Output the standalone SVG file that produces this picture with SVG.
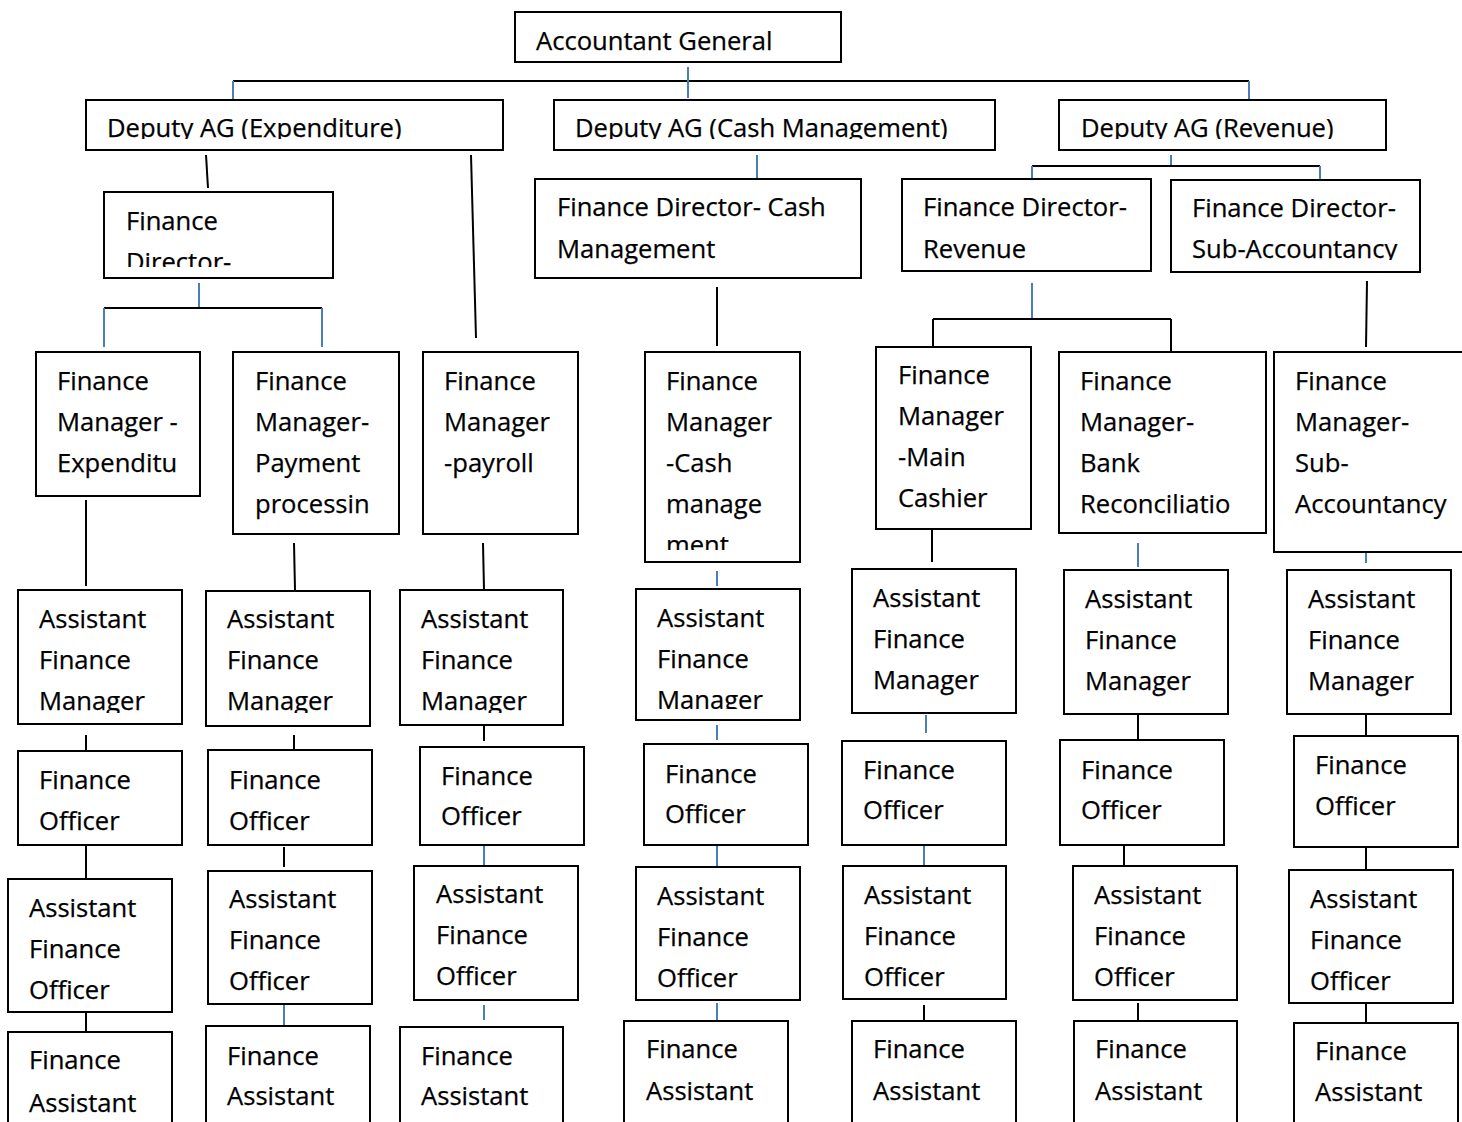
<svg xmlns="http://www.w3.org/2000/svg" width="1462" height="1122" viewBox="0 0 1462 1122">
  <style>
    .box { fill: #fff; stroke: #000; stroke-width: 2; }
    .t { font-family: "Open Sans", "Liberation Sans", sans-serif; font-size: 25.6px; fill: #000; stroke: #000; stroke-width: 0.25; }
    .k { stroke: #000; stroke-width: 2; fill: none; }
    .b { stroke: #4a7ebb; stroke-width: 2; fill: none; }
  </style>
  <defs>
    <!-- bottom cut-offs for text that overflows its box -->
    <clipPath id="cDep" clipPathUnits="userSpaceOnUse"><rect x="0" y="100" width="1462" height="39"/></clipPath>
    <clipPath id="cFdExp" clipPathUnits="userSpaceOnUse"><rect x="104" y="192" width="229" height="75"/></clipPath>
    <clipPath id="cFdSub" clipPathUnits="userSpaceOnUse"><rect x="1171" y="180" width="249" height="80"/></clipPath>
    <clipPath id="cFmCash" clipPathUnits="userSpaceOnUse"><rect x="645" y="352" width="155" height="198"/></clipPath>
    <clipPath id="cAfmA" clipPathUnits="userSpaceOnUse"><rect x="0" y="585" width="600" height="128"/></clipPath>
    <clipPath id="cAfm4" clipPathUnits="userSpaceOnUse"><rect x="636" y="589" width="164" height="120"/></clipPath>
  </defs>

  <!-- connectors -->
  <g id="connectors">
    <line class="k" x1="233" y1="81" x2="1249" y2="81"/>
    <line class="b" x1="688" y1="67" x2="688" y2="98"/>
    <line class="b" x1="233" y1="81" x2="233" y2="99"/>
    <line class="b" x1="1249" y1="81" x2="1249" y2="99"/>

    <line class="k" x1="206" y1="155" x2="208" y2="188"/>
    <line class="k" x1="471" y1="155" x2="476" y2="338"/>
    <line class="b" x1="199" y1="283" x2="199" y2="308"/>
    <line class="k" x1="104" y1="308" x2="322" y2="308"/>
    <line class="b" x1="104" y1="308" x2="104" y2="347"/>
    <line class="b" x1="322" y1="308" x2="322" y2="347"/>

    <line class="b" x1="757" y1="155" x2="757" y2="179"/>
    <line class="k" x1="717" y1="287" x2="717" y2="346"/>

    <line class="b" x1="1171" y1="155" x2="1171" y2="166"/>
    <line class="k" x1="1032" y1="166" x2="1320" y2="166"/>
    <line class="b" x1="1032" y1="166" x2="1032" y2="179"/>
    <line class="b" x1="1320" y1="166" x2="1320" y2="179"/>

    <line class="b" x1="1032" y1="283" x2="1032" y2="319"/>
    <line class="k" x1="933" y1="319" x2="1171" y2="319"/>
    <line class="k" x1="933" y1="319" x2="933" y2="347"/>
    <line class="k" x1="1171" y1="319" x2="1171" y2="352"/>
    <line class="k" x1="1367" y1="281" x2="1366" y2="347"/>

    <!-- column 1 -->
    <line class="k" x1="86" y1="500" x2="86" y2="586"/>
    <line class="k" x1="86" y1="735" x2="86" y2="750"/>
    <line class="k" x1="86" y1="845" x2="86" y2="878"/>
    <line class="k" x1="86" y1="1012" x2="86" y2="1032"/>
    <!-- column 2 -->
    <line class="k" x1="294" y1="543" x2="295" y2="590"/>
    <line class="k" x1="294" y1="735" x2="294" y2="750"/>
    <line class="k" x1="284" y1="847" x2="284" y2="867"/>
    <line class="b" x1="284" y1="1004" x2="284" y2="1027"/>
    <!-- column 3 -->
    <line class="k" x1="483" y1="543" x2="484" y2="590"/>
    <line class="k" x1="484" y1="725" x2="484" y2="741"/>
    <line class="b" x1="484" y1="845" x2="484" y2="866"/>
    <line class="b" x1="484" y1="1005" x2="484" y2="1020"/>
    <!-- column 4 -->
    <line class="b" x1="717" y1="571" x2="717" y2="586"/>
    <line class="b" x1="717" y1="725" x2="717" y2="740"/>
    <line class="b" x1="717" y1="845" x2="717" y2="867"/>
    <line class="b" x1="717" y1="1003" x2="717" y2="1020"/>
    <!-- column 5 -->
    <line class="k" x1="932" y1="529" x2="932" y2="562"/>
    <line class="b" x1="926" y1="715" x2="926" y2="733"/>
    <line class="b" x1="924" y1="845" x2="924" y2="866"/>
    <line class="k" x1="924" y1="1005" x2="924" y2="1020"/>
    <!-- column 6 -->
    <line class="b" x1="1138" y1="543" x2="1138" y2="567"/>
    <line class="k" x1="1138" y1="714" x2="1138" y2="740"/>
    <line class="k" x1="1124" y1="845" x2="1124" y2="866"/>
    <line class="k" x1="1138" y1="1003" x2="1138" y2="1020"/>
    <!-- column 7 -->
    <line class="b" x1="1366" y1="553" x2="1366" y2="563"/>
    <line class="k" x1="1366" y1="714" x2="1366" y2="736"/>
    <line class="k" x1="1366" y1="847" x2="1366" y2="870"/>
    <line class="k" x1="1366" y1="1003" x2="1366" y2="1023"/>
  </g>

  <!-- top levels -->
  <g id="ag"><rect class="box" x="515" y="12" width="326" height="50"/><text class="t" x="536" y="50">Accountant General</text></g>
  <g id="dag-exp"><rect class="box" x="86" y="100" width="417" height="50"/><text class="t" x="107" y="137" clip-path="url(#cDep)">Deputy AG (Expenditure)</text></g>
  <g id="dag-cash"><rect class="box" x="554" y="100" width="441" height="50"/><text class="t" x="575" y="137" clip-path="url(#cDep)">Deputy AG (Cash Management)</text></g>
  <g id="dag-rev"><rect class="box" x="1059" y="100" width="327" height="50"/><text class="t" x="1081" y="137" clip-path="url(#cDep)">Deputy AG (Revenue)</text></g>

  <g id="fd-exp"><rect class="box" x="104" y="192" width="229" height="86"/>
    <text class="t" clip-path="url(#cFdExp)"><tspan x="126" y="230">Finance</tspan><tspan x="126" y="271">Director-</tspan></text></g>
  <g id="fd-cash"><rect class="box" x="535" y="179" width="326" height="99"/>
    <text class="t"><tspan x="557" y="216">Finance Director- Cash</tspan><tspan x="557" y="258">Management</tspan></text></g>
  <g id="fd-rev"><rect class="box" x="902" y="179" width="249" height="92"/>
    <text class="t"><tspan x="923" y="216">Finance Director-</tspan><tspan x="923" y="258">Revenue</tspan></text></g>
  <g id="fd-sub"><rect class="box" x="1171" y="180" width="249" height="92"/>
    <text class="t" clip-path="url(#cFdSub)"><tspan x="1192" y="217">Finance Director-</tspan><tspan x="1192" y="258">Sub-Accountancy</tspan></text></g>

  <!-- finance managers -->
  <g id="fm-exp"><rect class="box" x="36" y="352" width="164" height="144"/>
    <text class="t"><tspan x="57" y="390">Finance</tspan><tspan x="57" y="431">Manager -</tspan><tspan x="57" y="472">Expenditu</tspan></text></g>
  <g id="fm-pay"><rect class="box" x="233" y="352" width="166" height="182"/>
    <text class="t"><tspan x="255" y="390">Finance</tspan><tspan x="255" y="431">Manager-</tspan><tspan x="255" y="472">Payment</tspan><tspan x="255" y="513">processin</tspan></text></g>
  <g id="fm-payroll"><rect class="box" x="423" y="352" width="155" height="182"/>
    <text class="t"><tspan x="444" y="390">Finance</tspan><tspan x="444" y="431">Manager</tspan><tspan x="444" y="472">-payroll</tspan></text></g>
  <g id="fm-cash"><rect class="box" x="645" y="352" width="155" height="210"/>
    <text class="t" clip-path="url(#cFmCash)"><tspan x="666" y="390">Finance</tspan><tspan x="666" y="431">Manager</tspan><tspan x="666" y="472">-Cash</tspan><tspan x="666" y="513">manage</tspan><tspan x="666" y="554">ment</tspan></text></g>
  <g id="fm-main"><rect class="box" x="876" y="347" width="155" height="182"/>
    <text class="t"><tspan x="898" y="384">Finance</tspan><tspan x="898" y="425">Manager</tspan><tspan x="898" y="466">-Main</tspan><tspan x="898" y="507">Cashier</tspan></text></g>
  <g id="fm-bank"><rect class="box" x="1059" y="352" width="207" height="181"/>
    <text class="t"><tspan x="1080" y="390">Finance</tspan><tspan x="1080" y="431">Manager-</tspan><tspan x="1080" y="472">Bank</tspan><tspan x="1080" y="513">Reconciliatio</tspan></text></g>
  <g id="fm-sub"><rect class="box" x="1274" y="352" width="200" height="200"/>
    <text class="t"><tspan x="1295" y="390">Finance</tspan><tspan x="1295" y="431">Manager-</tspan><tspan x="1295" y="472">Sub-</tspan><tspan x="1295" y="513">Accountancy</tspan></text></g>

  <!-- assistant finance managers -->
  <g id="afm-1"><rect class="box" x="18" y="590" width="164" height="134"/>
    <text class="t" clip-path="url(#cAfmA)"><tspan x="39" y="628">Assistant</tspan><tspan x="39" y="669">Finance</tspan><tspan x="39" y="710">Manager</tspan></text></g>
  <g id="afm-2"><rect class="box" x="206" y="591" width="164" height="135"/>
    <text class="t" clip-path="url(#cAfmA)"><tspan x="227" y="628">Assistant</tspan><tspan x="227" y="669">Finance</tspan><tspan x="227" y="710">Manager</tspan></text></g>
  <g id="afm-3"><rect class="box" x="400" y="590" width="163" height="135"/>
    <text class="t" clip-path="url(#cAfmA)"><tspan x="421" y="628">Assistant</tspan><tspan x="421" y="669">Finance</tspan><tspan x="421" y="710">Manager</tspan></text></g>
  <g id="afm-4"><rect class="box" x="636" y="589" width="164" height="131"/>
    <text class="t" clip-path="url(#cAfm4)"><tspan x="657" y="627">Assistant</tspan><tspan x="657" y="668">Finance</tspan><tspan x="657" y="709">Manager</tspan></text></g>
  <g id="afm-5"><rect class="box" x="852" y="569" width="164" height="144"/>
    <text class="t"><tspan x="873" y="607">Assistant</tspan><tspan x="873" y="648">Finance</tspan><tspan x="873" y="689">Manager</tspan></text></g>
  <g id="afm-6"><rect class="box" x="1064" y="570" width="164" height="144"/>
    <text class="t"><tspan x="1085" y="608">Assistant</tspan><tspan x="1085" y="649">Finance</tspan><tspan x="1085" y="690">Manager</tspan></text></g>
  <g id="afm-7"><rect class="box" x="1287" y="570" width="164" height="144"/>
    <text class="t"><tspan x="1308" y="608">Assistant</tspan><tspan x="1308" y="649">Finance</tspan><tspan x="1308" y="690">Manager</tspan></text></g>

  <!-- finance officers -->
  <g id="fo-1"><rect class="box" x="18" y="751" width="164" height="94"/>
    <text class="t"><tspan x="39" y="789">Finance</tspan><tspan x="39" y="830">Officer</tspan></text></g>
  <g id="fo-2"><rect class="box" x="208" y="750" width="164" height="95"/>
    <text class="t"><tspan x="229" y="789">Finance</tspan><tspan x="229" y="830">Officer</tspan></text></g>
  <g id="fo-3"><rect class="box" x="420" y="747" width="164" height="98"/>
    <text class="t"><tspan x="441" y="785">Finance</tspan><tspan x="441" y="825">Officer</tspan></text></g>
  <g id="fo-4"><rect class="box" x="644" y="744" width="164" height="101"/>
    <text class="t"><tspan x="665" y="783">Finance</tspan><tspan x="665" y="823">Officer</tspan></text></g>
  <g id="fo-5"><rect class="box" x="842" y="741" width="164" height="104"/>
    <text class="t"><tspan x="863" y="779">Finance</tspan><tspan x="863" y="819">Officer</tspan></text></g>
  <g id="fo-6"><rect class="box" x="1060" y="740" width="164" height="105"/>
    <text class="t"><tspan x="1081" y="779">Finance</tspan><tspan x="1081" y="819">Officer</tspan></text></g>
  <g id="fo-7"><rect class="box" x="1294" y="736" width="164" height="111"/>
    <text class="t"><tspan x="1315" y="774">Finance</tspan><tspan x="1315" y="815">Officer</tspan></text></g>

  <!-- assistant finance officers -->
  <g id="afo-1"><rect class="box" x="8" y="879" width="164" height="133"/>
    <text class="t"><tspan x="29" y="917">Assistant</tspan><tspan x="29" y="958">Finance</tspan><tspan x="29" y="999">Officer</tspan></text></g>
  <g id="afo-2"><rect class="box" x="208" y="871" width="164" height="133"/>
    <text class="t"><tspan x="229" y="908">Assistant</tspan><tspan x="229" y="949">Finance</tspan><tspan x="229" y="990">Officer</tspan></text></g>
  <g id="afo-3"><rect class="box" x="414" y="866" width="164" height="134"/>
    <text class="t"><tspan x="436" y="903">Assistant</tspan><tspan x="436" y="944">Finance</tspan><tspan x="436" y="985">Officer</tspan></text></g>
  <g id="afo-4"><rect class="box" x="636" y="867" width="164" height="133"/>
    <text class="t"><tspan x="657" y="905">Assistant</tspan><tspan x="657" y="946">Finance</tspan><tspan x="657" y="987">Officer</tspan></text></g>
  <g id="afo-5"><rect class="box" x="843" y="866" width="163" height="133"/>
    <text class="t"><tspan x="864" y="904">Assistant</tspan><tspan x="864" y="945">Finance</tspan><tspan x="864" y="986">Officer</tspan></text></g>
  <g id="afo-6"><rect class="box" x="1073" y="866" width="164" height="134"/>
    <text class="t"><tspan x="1094" y="904">Assistant</tspan><tspan x="1094" y="945">Finance</tspan><tspan x="1094" y="986">Officer</tspan></text></g>
  <g id="afo-7"><rect class="box" x="1289" y="870" width="164" height="133"/>
    <text class="t"><tspan x="1310" y="908">Assistant</tspan><tspan x="1310" y="949">Finance</tspan><tspan x="1310" y="990">Officer</tspan></text></g>

  <!-- finance assistants (run past the lower edge) -->
  <g id="fa-1"><rect class="box" x="8" y="1032" width="164" height="110"/>
    <text class="t"><tspan x="29" y="1069">Finance</tspan><tspan x="29" y="1112">Assistant</tspan></text></g>
  <g id="fa-2"><rect class="box" x="206" y="1026" width="164" height="116"/>
    <text class="t"><tspan x="227" y="1065">Finance</tspan><tspan x="227" y="1105">Assistant</tspan></text></g>
  <g id="fa-3"><rect class="box" x="400" y="1027" width="163" height="115"/>
    <text class="t"><tspan x="421" y="1065">Finance</tspan><tspan x="421" y="1105">Assistant</tspan></text></g>
  <g id="fa-4"><rect class="box" x="624" y="1021" width="164" height="121"/>
    <text class="t"><tspan x="646" y="1058">Finance</tspan><tspan x="646" y="1100">Assistant</tspan></text></g>
  <g id="fa-5"><rect class="box" x="852" y="1021" width="164" height="121"/>
    <text class="t"><tspan x="873" y="1058">Finance</tspan><tspan x="873" y="1100">Assistant</tspan></text></g>
  <g id="fa-6"><rect class="box" x="1074" y="1021" width="163" height="121"/>
    <text class="t"><tspan x="1095" y="1058">Finance</tspan><tspan x="1095" y="1100">Assistant</tspan></text></g>
  <g id="fa-7"><rect class="box" x="1294" y="1023" width="164" height="119"/>
    <text class="t"><tspan x="1315" y="1060">Finance</tspan><tspan x="1315" y="1101">Assistant</tspan></text></g>
</svg>
